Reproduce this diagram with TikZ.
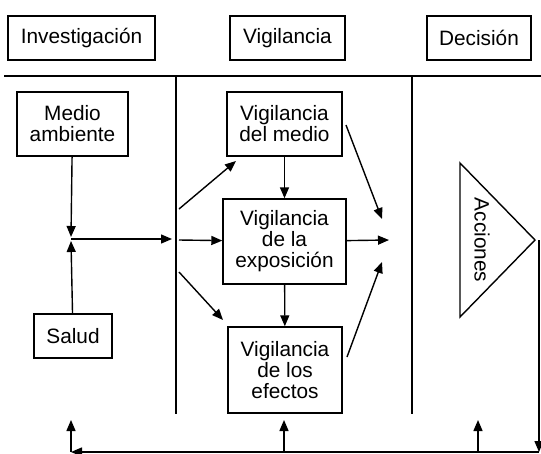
\documentclass[tikz,border=0pt]{standalone}
\usepackage{fontspec}
\setmainfont{Liberation Sans}
\usetikzlibrary{arrows.meta}
\tikzset{
  box/.style={draw, line width=1.4pt, align=center, inner sep=0pt},
  flow/.style={-{Triangle[length=11pt,width=9pt]}, line width=1.4pt},
}
\begin{document}
\begin{tikzpicture}[x=1pt, y=-1pt, font=\fontsize{20.8}{21}\selectfont]
  \useasboundingbox (0,0) rectangle (541,453);
  % headers
  \node[box, minimum width=147pt, minimum height=44pt] (inv) at (81.5,38) {Investigación};
  \node[box, minimum width=115pt, minimum height=44pt] (vig) at (287.5,38) {Vigilancia};
  \node[box, minimum width=104pt, minimum height=44pt] (dec) at (479,38) {Decisión};
  % frame lines
  \draw[line width=1.4pt] (4,76) -- (541,76);
  \draw[line width=1.4pt] (176,76) -- (176,414);
  \draw[line width=1.4pt] (412,76) -- (412,414);
  % left column
  \node[box, minimum width=111pt, minimum height=64pt] (medio) at (72.5,124) {Medio\\ambiente};
  \node[box, minimum width=78pt, minimum height=44pt] (salud) at (73,336) {Salud};
  \coordinate (jn) at (71,239);
  \coordinate (jin) at (172,239);
  \draw[flow] (medio) -- (71,237);
  \draw[flow] (salud) -- (71,241);
  \draw[flow] (jn) -- (jin);
  % middle column
  \node[box, minimum width=115pt, minimum height=64pt] (vmedio) at (284.5,124) {Vigilancia\\del medio};
  \node[box, minimum width=123pt, minimum height=85pt] (vexp) at (284.5,241.5) {Vigilancia\\de la\\exposición};
  \node[box, minimum width=114pt, minimum height=86pt] (vefe) at (285,370) {Vigilancia\\de los\\efectos};
  \coordinate (a1) at (179,209);
  \coordinate (a2) at (179,240);
  \coordinate (a3) at (179,272);
  \draw[flow] (a1) -- (236,161);
  \draw[flow] (a2) -- (vexp);
  \draw[flow] (a3) -- (223,320);
  \draw[flow] (vmedio) -- (vexp);
  \draw[flow] (vexp) -- (vefe);
  \coordinate (b1) at (382,219);
  \coordinate (b2) at (389,240);
  \coordinate (b3) at (382,262);
  \draw[flow] (346,125) -- (b1);
  \draw[flow] (vexp) -- (b2);
  \draw[flow] (347,357) -- (b3);
  % right column
  \coordinate (tt) at (460,163);
  \coordinate (tb) at (460,317);
  \coordinate (tip) at (535,240);
  \draw[line width=1.4pt] (tt) -- (tip) -- (tb) -- cycle;
  \node[rotate=-90] (acc) at (482,240) {Acciones};
  % feedback loop
  \coordinate (rt) at (539,240);
  \coordinate (rb) at (539,452);
  \coordinate (lb) at (71,452);
  \draw[flow] (rt) -- (rb);
  \draw[flow] (rb) -- (lb);
  \draw[flow] (71,452) -- (71,420);
  \draw[flow] (284,452) -- (284,420);
  \draw[flow] (478,452) -- (478,420);
\end{tikzpicture}
\end{document}
